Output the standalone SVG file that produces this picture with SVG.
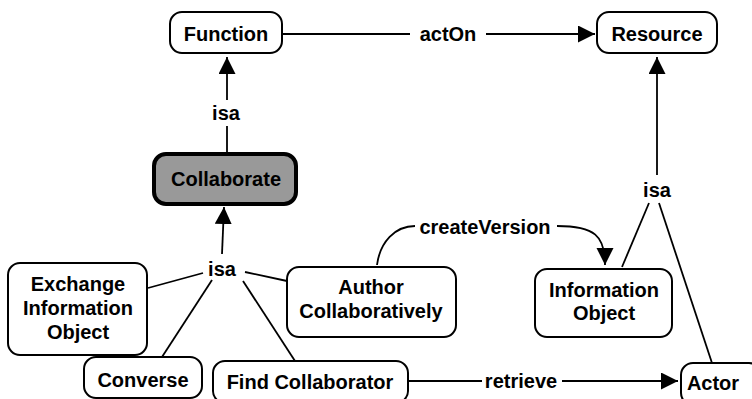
<svg xmlns="http://www.w3.org/2000/svg" width="752" height="399" viewBox="0 0 752 399">
<style>
.box{fill:#fff;stroke:#000;stroke-width:2}
.t{font-family:"Liberation Sans",Arial,sans-serif;font-weight:bold;font-size:20px;text-anchor:middle;fill:#000}
.c{fill:none;stroke:#000;stroke-width:1.8}
</style>
<defs>
<marker id="ah" markerUnits="userSpaceOnUse" markerWidth="18" markerHeight="18" refX="17" refY="8.5" orient="auto">
<path d="M0,0 L17,8.5 L0,17 z" fill="#000"/>
</marker>
</defs>
<rect width="752" height="399" fill="#fff"/>
<g id="connectors">
<line class="c" x1="283" y1="34" x2="410" y2="34"/>
<text class="t" x="448" y="41">actOn</text>
<line class="c" x1="486" y1="34" x2="595" y2="34" marker-end="url(#ah)"/>
<line class="c" x1="227" y1="153" x2="227" y2="126"/>
<text class="t" x="226" y="120">isa</text>
<line class="c" x1="227" y1="100" x2="227" y2="57" marker-end="url(#ah)"/>
<text class="t" x="222" y="276">isa</text>
<line class="c" x1="222" y1="254" x2="224" y2="207" marker-end="url(#ah)"/>
<line class="c" x1="203" y1="273" x2="148" y2="288"/>
<line class="c" x1="245" y1="272" x2="287" y2="281"/>
<line class="c" x1="212" y1="280" x2="162" y2="357"/>
<line class="c" x1="243" y1="281" x2="295" y2="361"/>
<path class="c" d="M377,265 C380,242 395,226 415,226"/>
<text class="t" x="485" y="234">createVersion</text>
<path class="c" d="M557,226 C595,226 605,236 605,265" marker-end="url(#ah)"/>
<line class="c" x1="657" y1="175" x2="657" y2="57" marker-end="url(#ah)"/>
<text class="t" x="657" y="197">isa</text>
<line class="c" x1="649" y1="203" x2="622" y2="267"/>
<line class="c" x1="659" y1="203" x2="712" y2="363"/>
<line class="c" x1="408" y1="381" x2="482" y2="381"/>
<text class="t" x="521" y="388">retrieve</text>
<line class="c" x1="562" y1="381" x2="678" y2="381" marker-end="url(#ah)"/>
</g>
<g id="function"><rect class="box" x="170" y="12" width="112" height="41" rx="12"/><text class="t" x="226" y="41">Function</text></g>
<g id="resource"><rect class="box" x="597" y="12" width="120" height="41" rx="12"/><text class="t" x="657" y="41">Resource</text></g>
<g id="collaborate"><rect x="154" y="154" width="142" height="50" rx="12" fill="#999" stroke="#000" stroke-width="4"/><text class="t" x="226" y="186">Collaborate</text></g>
<g id="exchange"><rect class="box" x="8" y="263" width="139" height="92" rx="12"/><text class="t" x="78" y="291">Exchange</text><text class="t" x="78" y="315">Information</text><text class="t" x="78" y="339">Object</text></g>
<g id="author"><rect class="box" x="287" y="267" width="169" height="70" rx="12"/><text class="t" x="371" y="294">Author</text><text class="t" x="371" y="318">Collaboratively</text></g>
<g id="informationobject"><rect class="box" x="535" y="269" width="137" height="68" rx="12"/><text class="t" x="604" y="297">Information</text><text class="t" x="604" y="320">Object</text></g>
<g id="converse"><rect class="box" x="84" y="357" width="118" height="41" rx="12"/><text class="t" x="143" y="387">Converse</text></g>
<g id="findcollaborator"><rect class="box" x="213" y="361" width="195" height="42" rx="12"/><text class="t" x="310" y="389">Find Collaborator</text></g>
<g id="actor"><rect class="box" x="681" y="363" width="80" height="42" rx="12"/><text class="t" x="713" y="390">Actor</text></g>
</svg>
